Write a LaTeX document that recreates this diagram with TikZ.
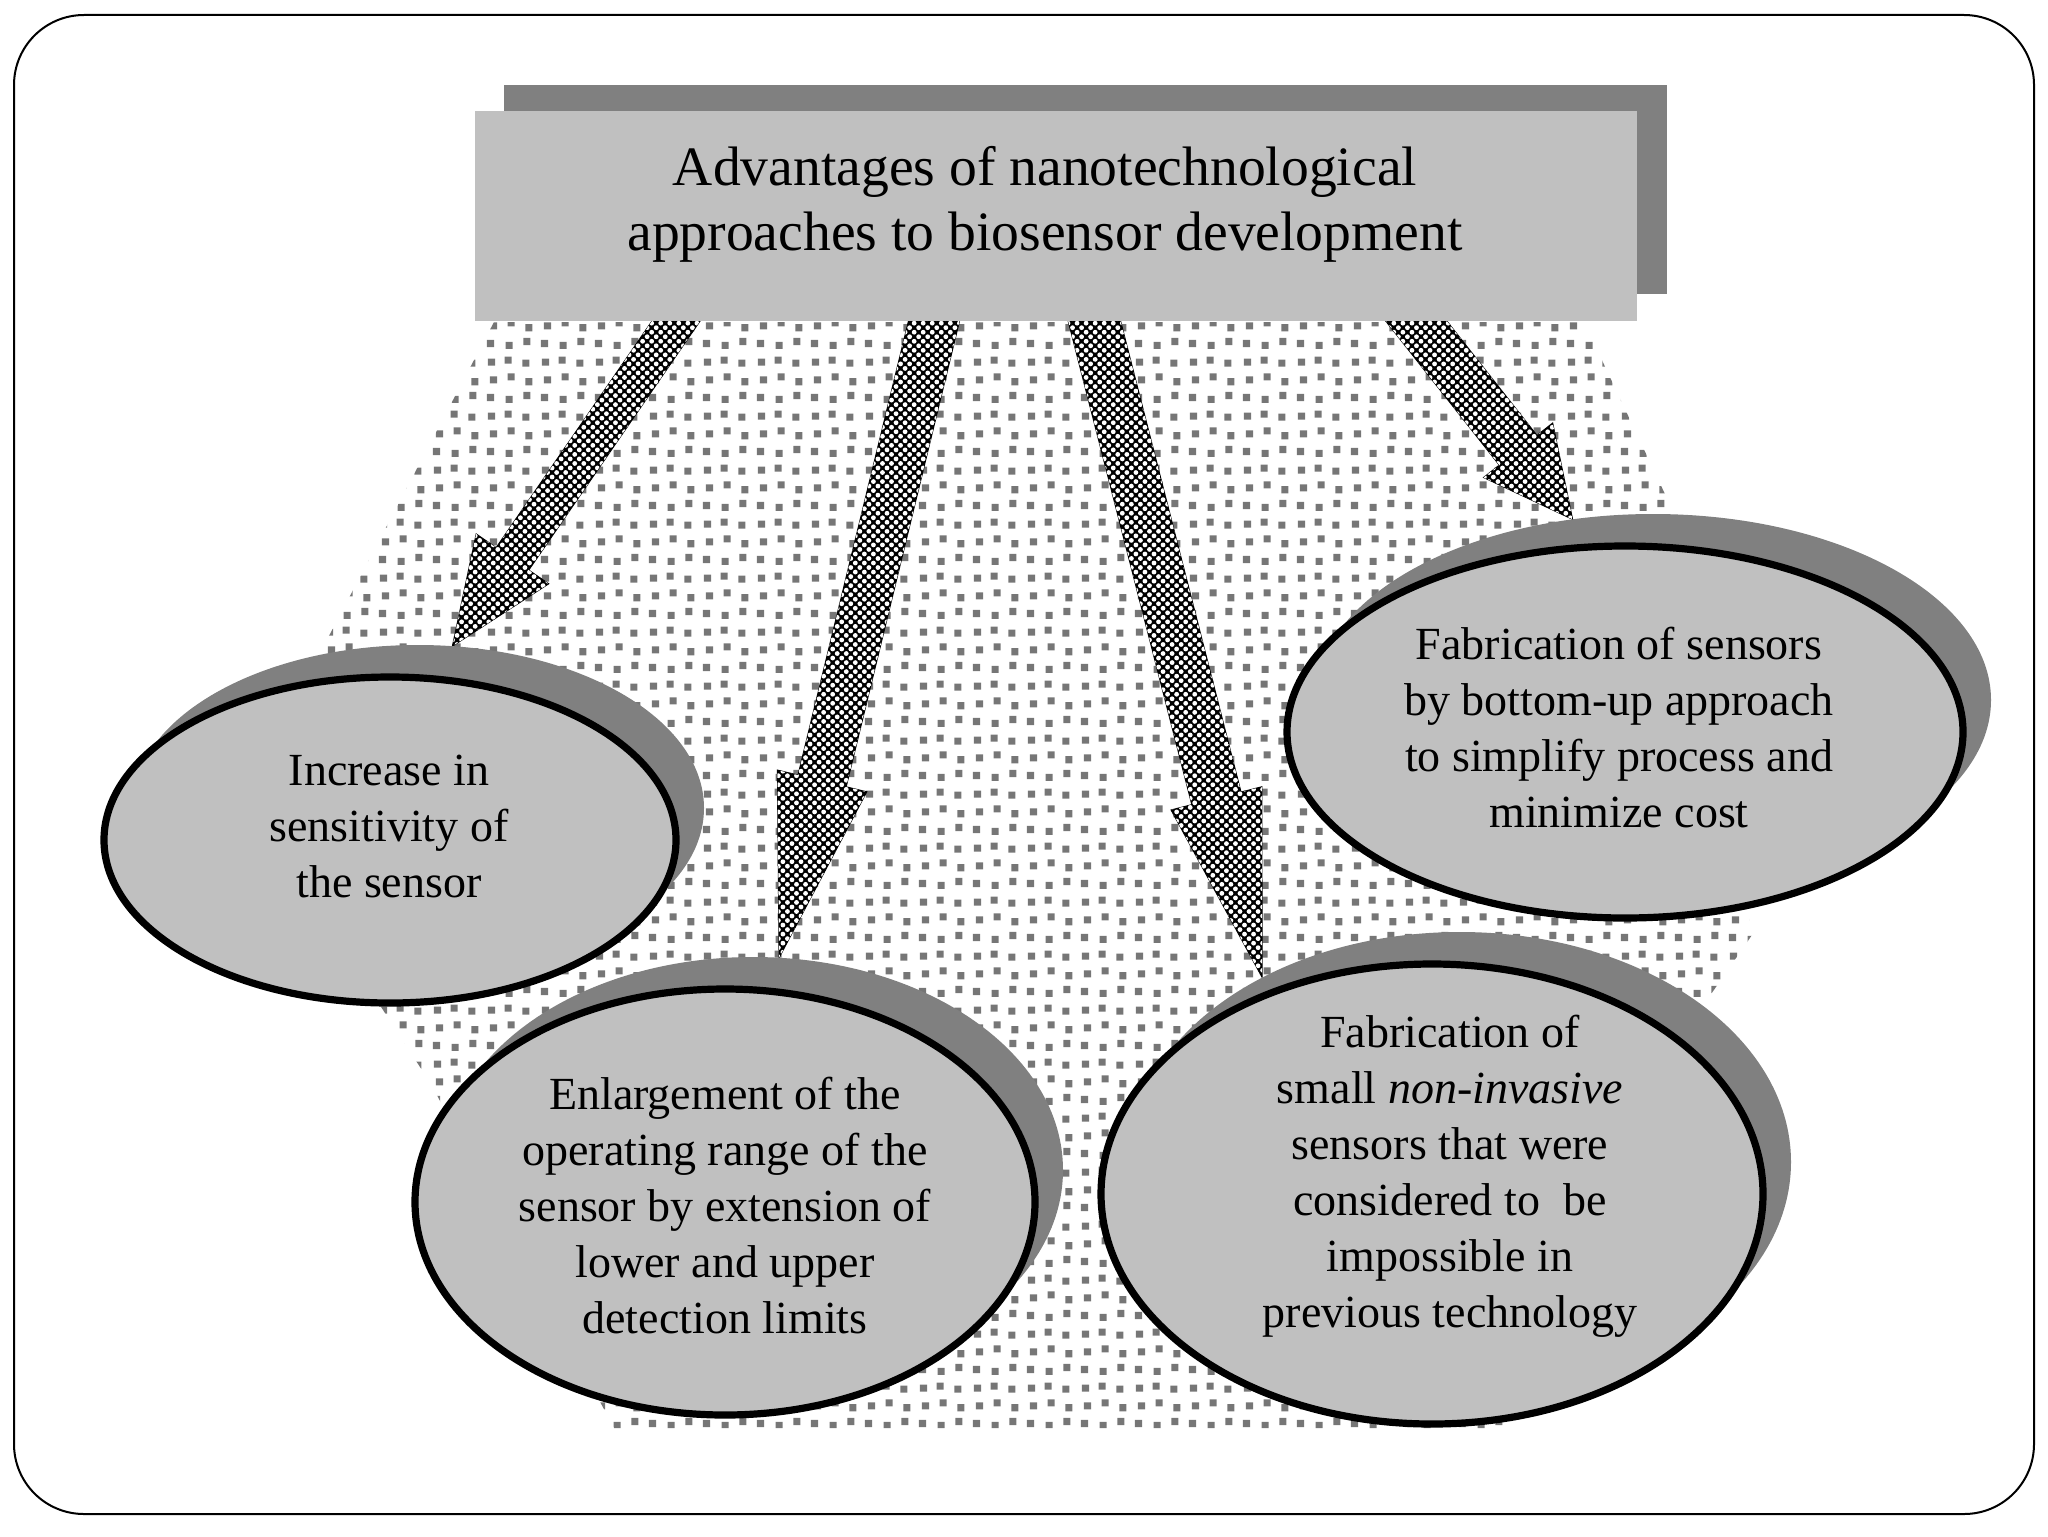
\documentclass[tikz,border=0pt]{standalone}
\usepackage{fontspec}
\setmainfont{Liberation Serif}
\usetikzlibrary{calc,shapes.geometric,patterns,patterns.meta}
\pgfdeclarelayer{speckle}
\pgfdeclarelayer{arrowlayer}
\pgfsetlayers{speckle,arrowlayer,main}

\definecolor{lightfill}{RGB}{192,192,192}
\definecolor{shadowfill}{RGB}{128,128,128}
\definecolor{dotgray}{RGB}{118,118,118}

\pgfdeclarepatternformonly{sqspeckle}{\pgfpointorigin}{\pgfpoint{27pt}{27pt}}{\pgfpoint{27pt}{27pt}}{%
  \pgfpathrectangle{\pgfpoint{0.5pt}{1pt}}{\pgfpoint{3.6pt}{3.6pt}}%
  \pgfpathrectangle{\pgfpoint{10pt}{0pt}}{\pgfpoint{3.6pt}{3.6pt}}%
  \pgfpathrectangle{\pgfpoint{19pt}{2pt}}{\pgfpoint{3.6pt}{3.6pt}}%
  \pgfpathrectangle{\pgfpoint{2pt}{10pt}}{\pgfpoint{3.6pt}{3.6pt}}%
  \pgfpathrectangle{\pgfpoint{11pt}{11.5pt}}{\pgfpoint{3.6pt}{3.6pt}}%
  \pgfpathrectangle{\pgfpoint{20pt}{9pt}}{\pgfpoint{3.6pt}{3.6pt}}%
  \pgfpathrectangle{\pgfpoint{1pt}{19pt}}{\pgfpoint{3.6pt}{3.6pt}}%
  \pgfpathrectangle{\pgfpoint{9.5pt}{20pt}}{\pgfpoint{3.6pt}{3.6pt}}%
  \pgfpathrectangle{\pgfpoint{18.5pt}{18.5pt}}{\pgfpoint{3.6pt}{3.6pt}}%
  \pgfusepath{fill}}

\tikzset{
  frame/.style={draw=black, line width=1pt, rounded corners=35pt},
  speckled/.style={pattern=sqspeckle, pattern color=dotgray},
  blockarrow/.style={fill=black, draw=black, line width=0.5pt,
    postaction={pattern={Dots[radius=1.2pt,distance=3.2pt,angle=45]}, pattern color=white}},
  titleshade/.style={rectangle, fill=shadowfill, inner sep=0pt, outer sep=0pt},
  titlebox/.style={rectangle, fill=lightfill, inner sep=0pt, outer sep=0pt},
  titletextstyle/.style={align=center, inner sep=0pt, font=\fontsize{27.8}{32.5}\selectfont},
  bubble/.style={ellipse, fill=lightfill, draw=black, line width=3.6pt, inner sep=0pt, outer sep=0pt},
  bubbleshadow/.style={ellipse, fill=shadowfill, inner sep=0pt, outer sep=0pt},
  bubbletext/.style={align=center, inner sep=0pt, font=\fontsize{23}{28}\selectfont},
}

% #1 start, #2 tip, #3 half shaft width, #4 half head width, #5 head length
\newcommand\blockarr[5]{%
  \coordinate (ba-s) at ($(#1)!-30pt!(#2)$);
  \coordinate (ba-h) at ($(#2)!#5!(#1)$);
  \draw[blockarrow] ($(ba-s)!#3!90:(#2)$) -- ($(ba-h)!#3!90:(#2)$) -- ($(ba-h)!#4!90:(#2)$)
    -- (#2) -- ($(ba-h)!#4!-90:(#2)$) -- ($(ba-h)!#3!-90:(#2)$) -- ($(ba-s)!#3!-90:(#2)$) -- cycle;}

\begin{document}
\begin{tikzpicture}[x=0.5pt,y=-0.5pt]
\useasboundingbox (0,0) rectangle (2048,1536);
\draw[frame] (14,15) rectangle (2034,1514);

% speckled background
\begin{pgfonlayer}{speckle}
\fill[speckled] (494,322) -- (1584,322) -- (1672,509) -- (1752,935) -- (1700,1010)
  -- (1502,1428) -- (614,1428) -- (431,1084) -- (372,993) -- (320,653) -- cycle;
\end{pgfonlayer}

% title
\node[titleshade, minimum width=581.5pt, minimum height=104.5pt] (titleshadow) at (1085.5,189.5) {};
\node[titlebox, minimum width=581pt, minimum height=105pt] (title) at (1056,216) {};
\node[titletextstyle] (titletext) at (1045,204) {Advantages of nanotechnological\\approaches to biosensor development};

% bubbles
\node[bubbleshadow, minimum width=286pt, minimum height=163pt] (e1s) at (418,808) {};
\node[bubble, minimum width=286pt, minimum height=163pt] (e1) at (390,840) {};
\node[bubbletext] (e1t) at (389,826) {Increase in\\sensitivity of\\the sensor};

\node[bubbleshadow, minimum width=338pt, minimum height=186pt] (e4s) at (1653,700) {};
\node[bubble, minimum width=338pt, minimum height=186pt] (e4) at (1625,732) {};
\node[bubbletext] (e4t) at (1619,728) {Fabrication of sensors\\by bottom-up approach\\to simplify process and\\minimize cost};

\node[bubbleshadow, minimum width=310pt, minimum height=213pt] (e2s) at (753,1170) {};
\node[bubble, minimum width=310pt, minimum height=213pt] (e2) at (725,1202) {};
\node[bubbletext] (e2t) at (725,1206) {Enlargement of the\\operating range of the\\sensor by extension of\\lower and upper\\detection limits};

\node[bubbleshadow, minimum width=331pt, minimum height=230pt] (e3s) at (1460,1162) {};
\node[bubble, minimum width=331pt, minimum height=230pt] (e3) at (1432,1194) {};
\node[bubbletext] (e3t) at (1450,1176) {Fabrication of\\small \textit{non-invasive}\\sensors that were\\considered to~ be\\impossible in\\previous technology};

% arrows
\coordinate (s1) at ($(title.south west)!0.173!(title.south east)$);
\coordinate (s2) at ($(title.south west)!0.395!(title.south east)$);
\coordinate (s3) at ($(title.south west)!0.533!(title.south east)$);
\coordinate (s4) at ($(title.south west)!0.810!(title.south east)$);
\coordinate (t1) at (e1s.78);
\coordinate (t2) at (e2s.83);
\coordinate (t3) at (e3s.137);
\coordinate (t4) at (e4s.114);
\begin{pgfonlayer}{arrowlayer}
\blockarr{s1}{t1}{9.9pt}{22pt}{53pt}
\blockarr{s2}{t2}{12.4pt}{23pt}{91pt}
\blockarr{s3}{t3}{12.7pt}{23.4pt}{92.5pt}
\blockarr{s4}{t4}{12pt}{22pt}{44pt}
\end{pgfonlayer}
\end{tikzpicture}
\end{document}
